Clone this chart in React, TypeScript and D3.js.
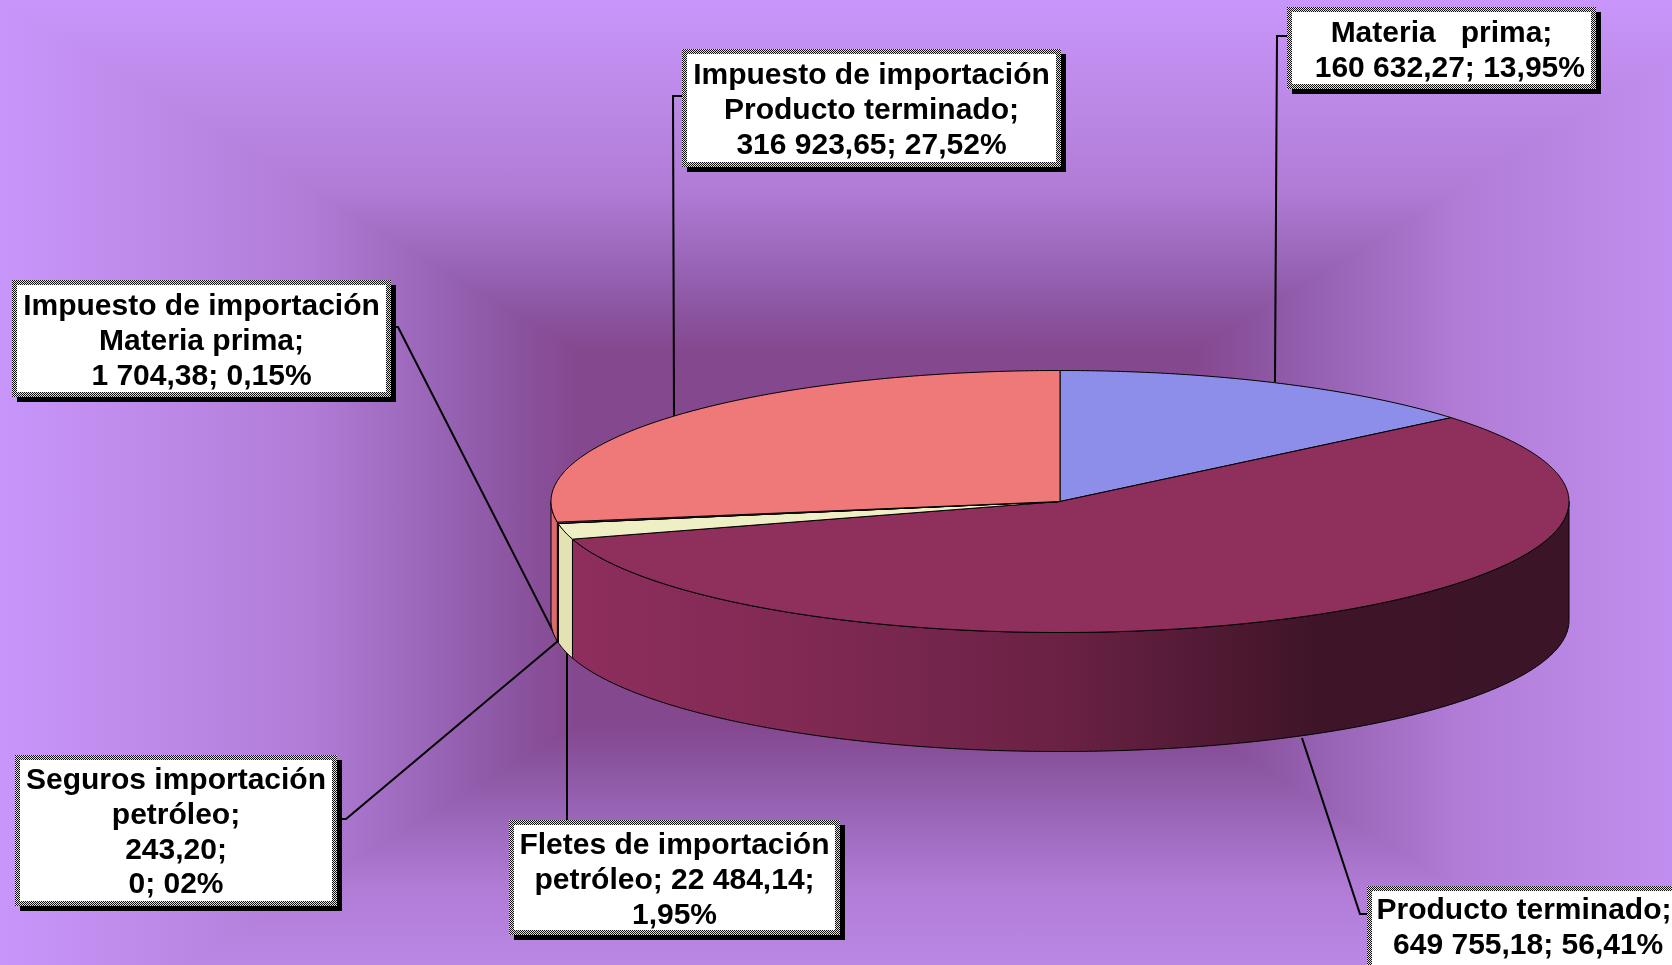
import React from "react";
import * as d3 from "d3";

const categories = ["Materia prima", "Producto terminado", "Fletes de importación petróleo", "Seguros importación petróleo", "Impuesto de importación Materia prima", "Impuesto de importación Producto terminado"];
const values = [160632.27, 649755.18, 22484.14, 243.2, 1704.38, 316923.65];
const topColors = ["#8c8ee9", "#8e2f5c", "#efefc5", "#660066", "#cc99ff", "#ef7878"];
const wallColors = ["#6f70b8", "url(#wall)", "#e4e2b3", "#4d004d", "#a67ccc", "#dc6c6c"];
const labelLines = [
  ["Materia   prima;", "  160 632,27; 13,95%"],
  ["Producto terminado;", " 649 755,18; 56,41%"],
  ["Fletes de importación", "petróleo; 22 484,14;", "1,95%"],
  ["Seguros importación", "petróleo;", "243,20;", "0; 02%"],
  ["Impuesto de importación", "Materia prima;", "1 704,38; 0,15%"],
  ["Impuesto de importación", "Producto terminado;", "316 923,65; 27,52%"],
];
// label boxes: x0, y0, x1, y1
const boxes = [
  [1287, 7, 1596, 89],
  [1367, 886, 1681, 972],
  [509, 820, 840, 935],
  [15, 755, 337, 906],
  [12, 280, 391, 397],
  [682, 49, 1061, 167],
];
const firstBaselines = [42, 919, 854, 789, 315, 84];
const lineStep = 34.8;
const shadowOffset = 5;
const leaders = [
  [[1287, 36], [1277, 36], [1275, 382]],
  [[1367, 914], [1360, 914], [1302, 738]],
  [[567, 820], [567, 653]],
  [[342, 819], [346, 819], [558, 641]],
  [[391, 327], [398, 327], [558, 641]],
  [[682, 96], [673, 96], [674, 416]],
];
const bgStops: [number, string][] = [
  [0, "#84488f"],
  [0.35, "#84488f"],
  [0.45, "#8f5aa8"],
  [0.55, "#a06cc0"],
  [0.65, "#b07cd6"],
  [0.8, "#bb88e6"],
  [1, "#c896fa"],
];

const W = 1672, H = 965;
const GW = 1770, GH = 1077;
const cx = GW / 2, cy = GH / 2;
const x = d3.scaleLinear().domain([-1, 1]).range([551, 1569]);
const y = d3.scaleLinear().domain([1, -1]).range([370.5, 632.5]);
const depth = 119;
const pt = (a: number, h = 0): [number, number] => [x(Math.sin(a)), y(Math.cos(a)) + h];
const arcAngles = (a0: number, a1: number) => {
  const n = Math.max(2, Math.ceil((a1 - a0) / 0.01));
  return d3.range(n + 1).map((i) => a0 + ((a1 - a0) * i) / n);
};
const line = d3.line<[number, number]>();
const arcs = d3.pie<number>().sort(null).value((d) => d)(values);

const bgTris = [
  { id: "bgT", pts: [[0, 0], [GW, 0]], g: [cx, cy, cx, 0] },
  { id: "bgB", pts: [[GW, GH], [0, GH]], g: [cx, cy, cx, GH] },
  { id: "bgL", pts: [[0, GH], [0, 0]], g: [cx, cy, 0, cy] },
  { id: "bgR", pts: [[GW, 0], [GW, GH]], g: [cx, cy, GW, cy] },
];

export default function App() {
  const center: [number, number] = [x(0), y(0)];
  return (
    <svg width={W} height={H} viewBox={`0 0 ${W} ${H}`} style={{ position: "fixed", left: 0, top: 0, display: "block" }} fontFamily="'Liberation Sans', Arial, sans-serif">
      <defs>
        {bgTris.map((t) => (
          <linearGradient key={t.id} id={t.id} gradientUnits="userSpaceOnUse" x1={t.g[0]} y1={t.g[1]} x2={t.g[2]} y2={t.g[3]}>
            {bgStops.map(([o, col]) => <stop key={o} offset={o} stopColor={col} />)}
          </linearGradient>
        ))}
        <linearGradient id="wall" gradientUnits="userSpaceOnUse" x1={570} y1={0} x2={1569} y2={0}>
          <stop offset={0} stopColor="#8e2e5d" />
          <stop offset={0.25} stopColor="#7f2952" />
          <stop offset={0.5} stopColor="#692143" />
          <stop offset={0.75} stopColor="#3e1428" />
          <stop offset={1} stopColor="#3c1427" />
        </linearGradient>
        <pattern id="dither" width={2} height={2} patternUnits="userSpaceOnUse">
          <rect width={2} height={2} fill="#e0e0e0" />
          <rect width={1} height={1} fill="#111" />
          <rect x={1} y={1} width={1} height={1} fill="#111" />
        </pattern>
      </defs>

      {bgTris.map((t) => (
        <polygon key={t.id} shapeRendering="crispEdges" points={`${cx},${cy} ${t.pts[0].join(",")} ${t.pts[1].join(",")}`} fill={`url(#${t.id})`} />
      ))}

      {leaders.map((l, i) => (
        <path key={i} d={line(l as [number, number][]) || ""} fill="none" stroke="#000" strokeWidth={2} />
      ))}

      {arcs.map((a, i) => {
        const a0 = Math.max(a.startAngle, Math.PI / 2);
        const a1 = Math.min(a.endAngle, (3 * Math.PI) / 2);
        if (a1 <= a0) return null;
        const top = arcAngles(a0, a1).map((t) => pt(t));
        const bottom = arcAngles(a0, a1).reverse().map((t) => pt(t, depth));
        return <path key={i} d={line([...top, ...bottom]) + "Z"} fill={wallColors[i]} stroke="#000" strokeWidth={1} strokeLinejoin="round" />;
      })}

      {arcs.map((a, i) => {
        const pts = [center, ...arcAngles(a.startAngle, a.endAngle).map((t) => pt(t))];
        return <path key={i} d={line(pts) + "Z"} fill={topColors[i]} stroke="#000" strokeWidth={1} strokeLinejoin="round" />;
      })}

      {boxes.map(([x0, y0, x1, y1], i) => {
        const mid = (x0 + x1) / 2;
        return (
          <g key={categories[i]}>
            <rect x={x0 + shadowOffset} y={y0 + shadowOffset} width={x1 - x0} height={y1 - y0} fill="#000" />
            <rect x={x0} y={y0} width={x1 - x0} height={y1 - y0} fill="url(#dither)" />
            <rect x={x0 + 5} y={y0 + 5} width={x1 - x0 - 10} height={y1 - y0 - 10} fill="#fff" />
            {labelLines[i].map((s, j) => (
              <text key={j} x={mid} y={firstBaselines[i] + j * lineStep} textAnchor="middle" fontWeight="bold" fontSize={30} fill="#000" style={{ whiteSpace: "pre" }}>
                {s}
              </text>
            ))}
          </g>
        );
      })}
    </svg>
  );
}
